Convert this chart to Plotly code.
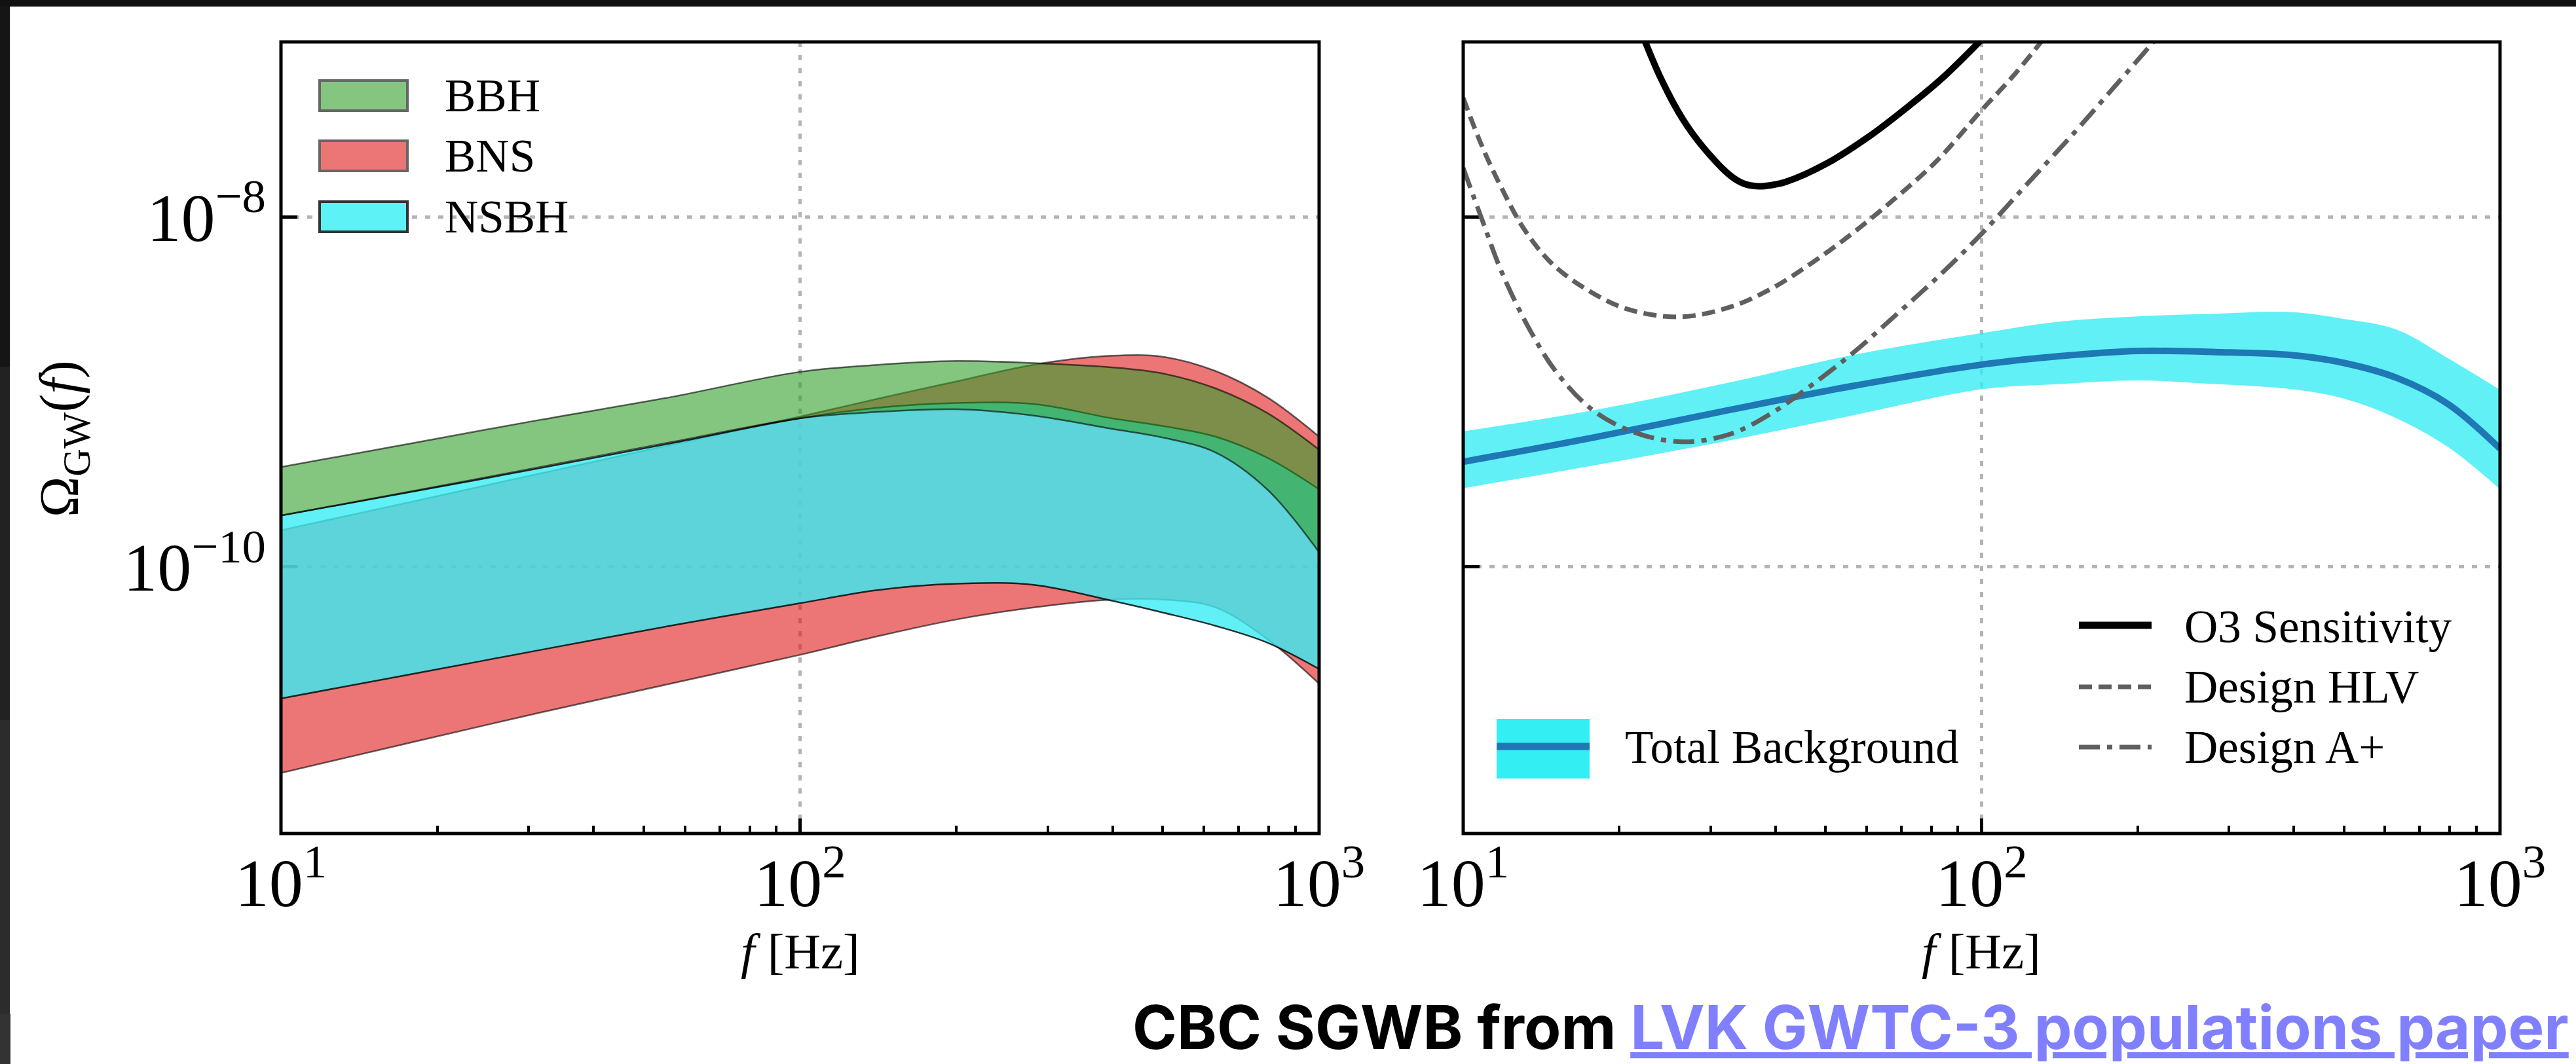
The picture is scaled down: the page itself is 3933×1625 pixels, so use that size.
import numpy as np
import plotly.graph_objects as go

W, H = 3933, 1625
SERIF = "Liberation Serif"

# ---------------- left panel: per-population 90% bands (log10 Omega) ----------------
freq = [10, 17.8, 31.6, 56.2, 100, 141, 200, 282, 398, 501, 631, 794, 1000]

bbh_hi = [-9.429, -9.294, -9.159, -9.03, -8.885, -8.845, -8.823, -8.835, -8.859, -8.895, -8.979, -9.120, -9.330]
bbh_lo = [-9.706, -9.568, -9.429, -9.288, -9.150, -9.114, -9.099, -9.135, -9.210, -9.261, -9.345, -9.556, -9.916]

bns_hi = [-9.790, -9.628, -9.465, -9.303, -9.141, -9.039, -8.940, -8.844, -8.793, -8.799, -8.880, -9.030, -9.255]
bns_lo = [-11.177, -11.003, -10.832, -10.667, -10.502, -10.396, -10.300, -10.231, -10.186, -10.186, -10.231, -10.411, -10.667]

nsbh_hi = [-9.706, -9.571, -9.435, -9.294, -9.150, -9.090, -9.063, -9.069, -9.150, -9.195, -9.255, -9.375, -9.556]
nsbh_lo = [-10.751, -10.613, -10.474, -10.336, -10.207, -10.132, -10.096, -10.102, -10.192, -10.261, -10.336, -10.432, -10.583]

# ---------------- right panel: total background and detector sensitivities ----------------
tot_mid = [-9.399, -9.261, -9.111, -8.967, -8.844, -8.796, -8.766, -8.772, -8.790, -8.835, -8.919, -9.069, -9.324]
tot_hi = [-9.225, -9.105, -8.955, -8.790, -8.664, -8.598, -8.568, -8.553, -8.544, -8.583, -8.643, -8.808, -8.988]
tot_lo = [-9.550, -9.420, -9.285, -9.135, -8.985, -8.955, -8.934, -8.955, -8.985, -9.039, -9.150, -9.315, -9.556]

o3_f = [22.1, 24.1, 26.5, 29.0, 32.8, 34.8, 37.1, 39.4, 41.9, 50.3, 60.4, 72.6, 84.6, 102.8]
o3_om = [-6.95, -7.213, -7.44, -7.60, -7.765, -7.81, -7.825, -7.818, -7.80, -7.694, -7.544, -7.363, -7.198, -6.95]

hlv_f = [10, 10.9, 11.9, 13.1, 14.8, 17.3, 20.7, 26.1, 32.8, 39.4, 47.3, 56.9, 68.4, 82.0, 99.8, 114.8, 130.0, 134.9]
hlv_om = [-7.32, -7.604, -7.844, -8.069, -8.264, -8.414, -8.526, -8.571, -8.514, -8.408, -8.258, -8.084,
          -7.889, -7.679, -7.393, -7.198, -7.003, -6.94]

aplus_f = [10, 10.9, 11.9, 13.5, 15.2, 17.8, 21.4, 26.5, 32.8, 39.4, 47.3, 56.9, 68.4, 82.0, 99.8,
           122.2, 151.4, 182.0, 211.8, 222.0]
aplus_om = [-7.72, -8.024, -8.324, -8.655, -8.895, -9.105, -9.231, -9.285, -9.240, -9.120, -8.955, -8.769,
            -8.559, -8.348, -8.099, -7.814, -7.514, -7.243, -7.018, -6.94]

x_tickvals = [10, 100, 1000]
x_ticktext = ["10<sup>1</sup>", "10<sup>2</sup>", "10<sup>3</sup>"]
x_minor = [20, 30, 40, 50, 60, 70, 80, 90, 200, 300, 400, 500, 600, 700, 800, 900]
y_tickvals = [1e-10, 1e-8]
y_ticktext = ["10<sup>\u221210</sup>", "10<sup>\u22128</sup>"]

RED_FILL = "rgba(223,25,25,0.6)"
GREEN_FILL = "rgba(50,158,43,0.6)"
CYAN_FILL = "rgba(56,236,243,0.8)"
EDGE6 = "rgba(0,0,0,0.6)"
EDGE8 = "rgba(0,0,0,0.8)"
GRAY = "#5f5f5f"
BLUE = "#1f77b4"


def px(x):
    return x / W


def py(y):
    return 1 - y / H


def om(v):
    return 10 ** np.array(v, dtype=float)


fig = go.Figure()


def add_band(xa, ya, f, lo, hi, fill, edge, width):
    fig.add_trace(go.Scatter(x=f, y=om(lo), mode="lines", xaxis=xa, yaxis=ya,
                             line=dict(color=edge, width=width, shape="spline"),
                             showlegend=False, hoverinfo="skip"))
    fig.add_trace(go.Scatter(x=f, y=om(hi), mode="lines", xaxis=xa, yaxis=ya,
                             fill="tonexty", fillcolor=fill,
                             line=dict(color=edge, width=width, shape="spline"),
                             showlegend=False, hoverinfo="skip"))


# left panel bands (BNS underneath, then NSBH, BBH on top)
add_band("x", "y", freq, bns_lo, bns_hi, RED_FILL, EDGE6, 2.5)
add_band("x", "y", freq, nsbh_lo, nsbh_hi, CYAN_FILL, EDGE8, 2.5)
add_band("x", "y", freq, bbh_lo, bbh_hi, GREEN_FILL, EDGE6, 2.5)

# right panel
add_band("x2", "y2", freq, tot_lo, tot_hi, CYAN_FILL, "rgba(0,0,0,0)", 0)
fig.add_trace(go.Scatter(x=freq, y=om(tot_mid), mode="lines", xaxis="x2", yaxis="y2",
                         line=dict(color=BLUE, width=10, shape="spline"),
                         showlegend=False, hoverinfo="skip"))
fig.add_trace(go.Scatter(x=o3_f, y=om(o3_om), mode="lines", xaxis="x2", yaxis="y2",
                         line=dict(color="black", width=10, shape="spline"),
                         showlegend=False, hoverinfo="skip"))
fig.add_trace(go.Scatter(x=hlv_f, y=om(hlv_om), mode="lines", xaxis="x2", yaxis="y2",
                         line=dict(color=GRAY, width=7, shape="spline", dash="20px,10px"),
                         showlegend=False, hoverinfo="skip"))
fig.add_trace(go.Scatter(x=aplus_f, y=om(aplus_om), mode="lines", xaxis="x2", yaxis="y2",
                         line=dict(color=GRAY, width=7, shape="spline", dash="32px,11px,8px,11px"),
                         showlegend=False, hoverinfo="skip"))

# ---------------- axes ----------------
Y_DOM = [py(1273), py(64)]
X1_DOM = [px(429), px(2014)]
X2_DOM = [px(2234), px(3817)]

tick_font = dict(family=SERIF, size=104, color="black")
grid = dict(showgrid=True, gridcolor="#b4b4b4", gridwidth=5, griddash="8px,12px")


def xaxis(dom, anchor):
    return dict(domain=dom, anchor=anchor, type="log", range=[1, 3],
                tickmode="array", tickvals=x_tickvals, ticktext=x_ticktext,
                ticks="inside", ticklen=23, tickwidth=5, tickcolor="black",
                minor=dict(tickmode="array", tickvals=x_minor, ticks="inside", ticklen=12,
                           tickwidth=3.5, tickcolor="black", showgrid=False),
                showline=False, zeroline=False, tickfont=tick_font,
                ticklabelstandoff=6, layer="below traces", automargin=False, **grid)


def yaxis(anchor, labels):
    return dict(domain=Y_DOM, anchor=anchor, type="log",
                range=[np.log10(3e-12), -7],
                tickmode="array", tickvals=y_tickvals, ticktext=y_ticktext,
                showticklabels=labels,
                ticks="inside", ticklen=25, tickwidth=5, tickcolor="black",
                showline=False, zeroline=False, tickfont=tick_font,
                ticklabelstandoff=22, layer="below traces", automargin=False, **grid)


fig.update_layout(
    width=W, height=H,
    margin=dict(l=0, r=0, t=0, b=0),
    paper_bgcolor="white", plot_bgcolor="white",
    showlegend=False,
    xaxis=xaxis(X1_DOM, "y"),
    yaxis=yaxis("x", True),
    xaxis2=xaxis(X2_DOM, "y2"),
    yaxis2=yaxis("x2", False),
)

shapes = []
# panel frames
for xr, yr in (("x domain", "y domain"), ("x2 domain", "y2 domain")):
    shapes.append(dict(type="rect", xref=xr, yref=yr, x0=0, x1=1, y0=0, y1=1,
                       line=dict(color="black", width=5), layer="above"))

# page edges
shapes.append(dict(type="rect", xref="paper", yref="paper", x0=0, x1=1, y0=py(10), y1=1,
                   fillcolor="#111111", line=dict(width=0), layer="above"))
for y0, y1, c, w in ((10, 560, "#151515", 15), (560, 1100, "#222222", 15),
                     (1100, 1548, "#2c2c2c", 15), (1548, 1625, "#333333", 16)):
    shapes.append(dict(type="rect", xref="paper", yref="paper", x0=0, x1=px(w), y0=py(y1), y1=py(y0),
                       fillcolor=c, line=dict(width=0), layer="above"))

# left legend patches
legend_left = [("BBH", "#84c580", "#666666", 146), ("BNS", "#ec7575", "#666666", 238),
               ("NSBH", "#5cf2f6", "#333333", 331)]
for name, fc, ec, yc in legend_left:
    shapes.append(dict(type="rect", xref="paper", yref="paper",
                       x0=px(488), x1=px(622), y0=py(yc + 23), y1=py(yc - 23),
                       fillcolor=fc, line=dict(color=ec, width=4), layer="above"))

# right legend handles
shapes.append(dict(type="rect", xref="paper", yref="paper",
                   x0=px(2285), x1=px(2427), y0=py(1189), y1=py(1098),
                   fillcolor="#33eff4", line=dict(width=0), layer="above"))
shapes.append(dict(type="line", xref="paper", yref="paper",
                   x0=px(2285), x1=px(2427), y0=py(1140), y1=py(1140),
                   line=dict(color=BLUE, width=11), layer="above"))
for yc, col, dash, wd in ((955, "black", "solid", 11), (1049, GRAY, "20px,10px", 7),
                          (1141, GRAY, "32px,11px,8px,11px", 7)):
    shapes.append(dict(type="line", xref="paper", yref="paper",
                       x0=px(3174), x1=px(3285), y0=py(yc), y1=py(yc),
                       line=dict(color=col, width=wd, dash=dash), layer="above"))

fig.update_layout(shapes=shapes)

ann = []
leg_font = dict(family=SERIF, size=71, color="black")
for name, _, _, yc in legend_left:
    ann.append(dict(text=name, x=px(677), y=py(yc), xanchor="left", yanchor="middle", font=leg_font))
ann.append(dict(text="Total Background", x=px(2479), y=py(1141), xanchor="left", yanchor="middle", font=leg_font))
for name, yc in (("O3 Sensitivity", 957), ("Design HLV", 1049), ("Design A+", 1141)):
    ann.append(dict(text=name, x=px(3333), y=py(yc), xanchor="left", yanchor="middle", font=leg_font))

lab_font = dict(family=SERIF, size=77, color="black")
for xc in (1222, 3025):
    ann.append(dict(text="<i>f</i> [Hz]", x=px(xc), y=py(1453), xanchor="center", yanchor="middle", font=lab_font))
ann.append(dict(text="\u03a9<sub>GW</sub>(<i>f</i>)", x=px(97), y=py(670), textangle=-90,
                xanchor="center", yanchor="middle", font=dict(family=SERIF, size=84, color="black")))

ann.append(dict(
    text="<b>CBC SGWB from <span style='color:#8080ff'><u>LVK GWTC-3 populations paper</u></span></b>",
    x=px(3924), y=py(1568), xanchor="right", yanchor="middle",
    font=dict(family="Inter", size=92, color="black")))

for a in ann:
    a.update(xref="paper", yref="paper", showarrow=False)
fig.update_layout(annotations=ann)

fig.write_html("out.html")
